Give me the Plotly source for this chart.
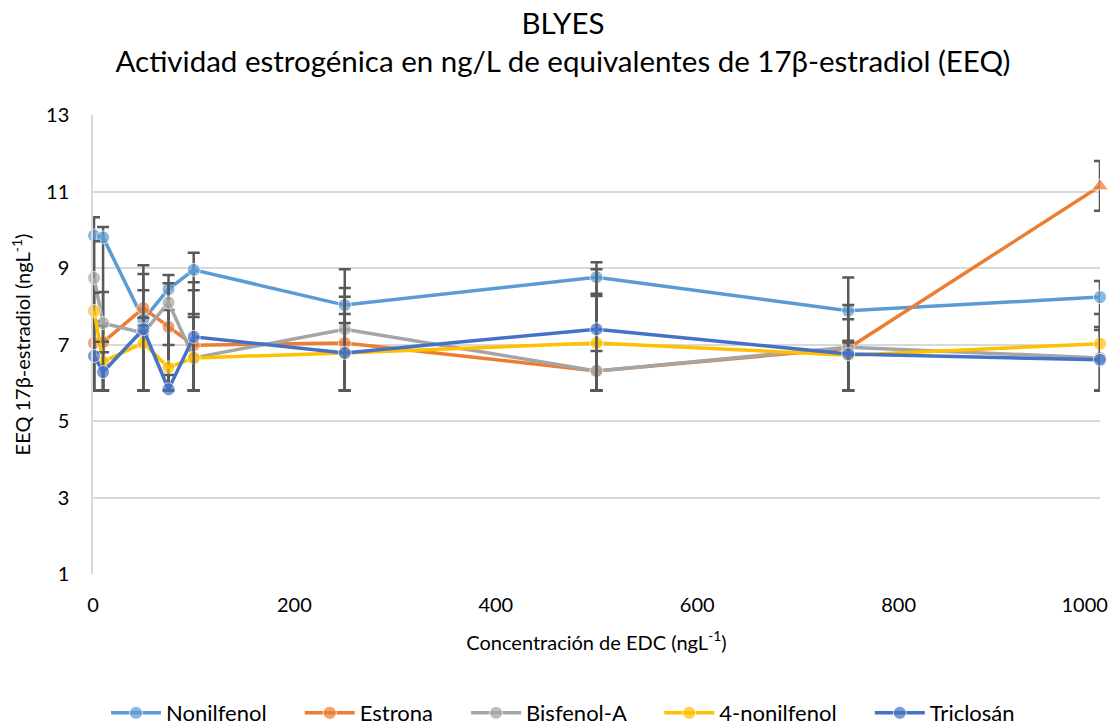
import plotly.graph_objects as go

x_conc = [1, 10, 50, 75, 100, 250, 500, 750, 1000]

nonilfenol = [9.85, 9.80, 7.65, 8.45, 8.95, 8.03, 8.76, 7.88, 8.24]
nonilfenol_hi = [10.33, 10.07, 8.42, 8.82, 9.40, 8.97, 9.15, 8.75, 8.66]
nonilfenol_lo = [5.80, 5.80, 5.80, 5.80, 5.80, 5.80, 5.80, 5.80, 5.80]

estrona = [7.04, 7.06, 7.95, 7.46, 6.98, 7.04, 6.31, 6.90, 11.14]
estrona_hi = [7.60, 7.50, 9.07, 7.90, 8.63, 8.25, 8.33, 8.03, 11.80]
estrona_lo = [5.80, 5.80, 5.80, 5.80, 5.80, 5.80, 5.80, 5.80, 10.50]

bisfenol = [8.74, 7.56, 7.30, 8.10, 6.65, 7.40, 6.31, 6.93, 6.65]
bisfenol_hi = [9.70, 8.37, 8.84, 8.60, 8.42, 8.48, 6.83, 7.66, 7.46]
bisfenol_lo = [5.80, 5.80, 5.80, 5.80, 5.80, 5.80, 5.80, 5.80, 5.80]

nonilfenol4 = [7.88, 6.55, 7.04, 6.40, 6.65, 6.78, 7.04, 6.72, 7.02]
nonilfenol4_hi = [8.35, 7.07, 7.50, 6.99, 7.72, 7.56, 8.27, 7.10, 7.80]
nonilfenol4_lo = [5.80, 5.80, 5.80, 5.80, 5.80, 5.80, 5.80, 5.80, 5.80]

triclosan = [6.70, 6.28, 7.40, 5.83, 7.20, 6.78, 7.40, 6.75, 6.60]
triclosan_hi = [7.07, 6.80, 7.70, 6.20, 7.80, 7.80, 8.97, 7.05, 7.38]
triclosan_lo = [5.80, 5.80, 5.80, 5.80, 5.80, 5.80, 5.80, 5.80, 5.80]

x_ticks = [0, 200, 400, 600, 800, 1000]
x_ticktext = ["0", "200", "400", "600", "800", "1000" + "\u00a0" * 6]
y_ticks = [1, 3, 5, 7, 9, 11, 13]

series = [
    ("Nonilfenol", nonilfenol, nonilfenol_hi, nonilfenol_lo, "#5B9BD5", None),
    ("Estrona", estrona, estrona_hi, estrona_lo, "#ED7D31", "estrona"),
    ("Bisfenol-A", bisfenol, bisfenol_hi, bisfenol_lo, "#A5A5A5", None),
    ("4-nonilfenol", nonilfenol4, nonilfenol4_hi, nonilfenol4_lo, "#FFC000", None),
    ("Triclosán", triclosan, triclosan_hi, triclosan_lo, "#4472C4", None),
]

FONT = "Lato, 'Open Sans', sans-serif"
PAD = "\u00a0" * 5

# page body adds an 8px offset; figure is sized so the visible area is 1118x725
W, H = 1110, 717
PL, PT, PW, PH = 85, 107, 1007, 459

fig = go.Figure()
for i, (name, vals, hi, lo, color, special) in enumerate(series):
    symbols = ["circle"] * len(vals)
    sizes = [13] * len(vals)
    if special == "estrona":
        symbols[-1] = "triangle-up"
        sizes[-1] = 15
    label = name + (PAD if i < len(series) - 1 else "")
    fig.add_trace(go.Scatter(
        x=x_conc, y=vals, name=label, mode="lines+markers",
        line=dict(color=color, width=3.5),
        marker=dict(color=color, size=sizes, symbol=symbols),
        error_y=dict(type="data", symmetric=False,
                     array=[h - v for h, v in zip(hi, vals)],
                     arrayminus=[v - l for v, l in zip(vals, lo)],
                     color="#595959", thickness=2.5, width=6),
        cliponaxis=False,
    ))

fig.update_layout(
    width=W, height=H,
    paper_bgcolor="white", plot_bgcolor="white",
    margin=dict(l=PL, r=W - PL - PW, t=PT, b=H - PT - PH, autoexpand=False),
    font=dict(family=FONT, size=20, color="#000000"),
    title=dict(
        text="BLYES<br>Actividad estrogénica en ng/L de equivalentes de 17β-estradiol (EEQ)",
        x=0.5, xanchor="center", xref="container",
        y=1 - 26 / H, yref="container", yanchor="top",
        font=dict(family=FONT, size=29.5, color="#000000"),
    ),
    xaxis=dict(
        range=[-0.01, 1000.01], tickvals=x_ticks, ticktext=x_ticktext,
        showgrid=False, zeroline=False, automargin=False, ticklabeloverflow="allow",
        showline=False, ticks="", tickfont=dict(size=20), ticklabelstandoff=17,
        title=dict(text="Concentración de EDC (ngL<sup>-1</sup>)", font=dict(size=20), standoff=20),
    ),
    yaxis=dict(
        range=[1, 13], tickvals=y_ticks, showgrid=True, gridcolor="#D9D9D9", gridwidth=1.5,
        zeroline=False, showline=True, linecolor="#D9D9D9", linewidth=1.5, ticks="",
        automargin=False, tickfont=dict(size=20), ticklabelstandoff=18,
        title=dict(text="EEQ 17β-estradiol (ngL<sup>-1</sup>)", font=dict(size=20), standoff=20),
    ),
    legend=dict(
        orientation="h", x=0.5, xanchor="center", xref="container",
        y=(PT + PH - 705) / PH, yanchor="middle",
        font=dict(size=22), itemwidth=50, traceorder="normal",
    ),
    showlegend=True,
)

fig.write_html("out.html")
